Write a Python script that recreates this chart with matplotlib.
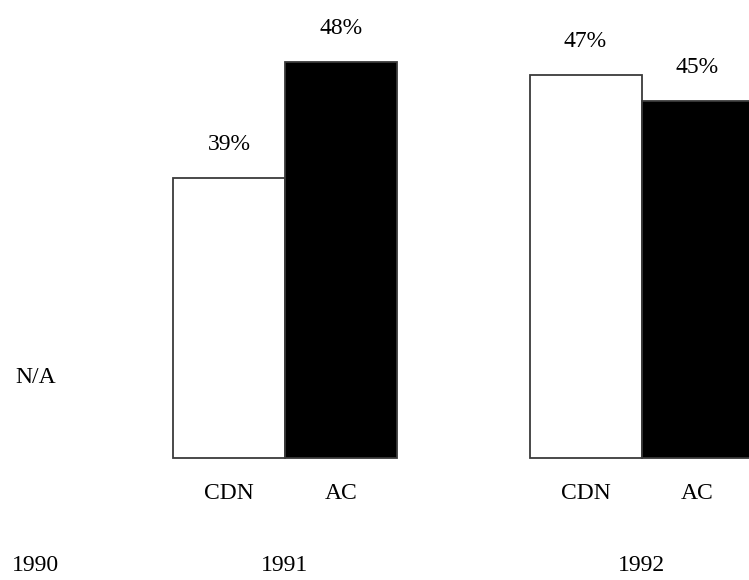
import matplotlib
matplotlib.use("Agg")
import matplotlib.pyplot as plt

# Data
years = ["1990", "1991", "1992"]
carriers = ["CDN", "AC"]
cdn_share = [None, 39, 47]   # 1990 not available
ac_share = [None, 48, 45]
missing_label = "N/A"

# Layout (x in bar-width units)
group_x = [0.32, 2.545, 5.728]
bar_w = 1.0
fill_colors = {"CDN": "white", "AC": "black"}

plt.rcParams["font.family"] = ["Liberation Serif", "DejaVu Serif"]
FS = 17

fig = plt.figure(figsize=(7.49, 5.80), dpi=100)
ax = fig.add_axes([0, 0.2095, 1, 0.7905])
ax.set_xlim(0, 749 / 112)
ax.set_ylim(17.1, 52.84)
ax.axis("off")

series = {"CDN": cdn_share, "AC": ac_share}
for gi, (yr, gx) in enumerate(zip(years, group_x)):
    # year label under each group
    ax.annotate(yr, xy=(gx, 0), xycoords=("data", "axes fraction"),
                xytext=(0, -113 * 0.72), textcoords="offset points",
                ha="center", va="baseline", fontsize=FS, annotation_clip=False)
    if cdn_share[gi] is None:
        ax.annotate(missing_label, xy=(gx, 0), xycoords=("data", "axes fraction"),
                    xytext=(0, (458.5 - 383) * 0.72), textcoords="offset points",
                    ha="center", va="baseline", fontsize=FS)
        continue
    for ci, name in enumerate(carriers):
        val = series[name][gi]
        cx = gx + (ci - 0.5) * bar_w
        ax.bar(cx, val - 17.1, bottom=17.1, width=bar_w,
               color=fill_colors[name], edgecolor="#3a3a3a", linewidth=1.3,
               clip_on=False)
        ax.annotate(f"{val}%", xy=(cx, val), xytext=(0, 28 * 0.72),
                    textcoords="offset points", ha="center", va="baseline",
                    fontsize=FS, annotation_clip=False)
        ax.annotate(name, xy=(cx, 0), xycoords=("data", "axes fraction"),
                    xytext=(0, -40.5 * 0.72), textcoords="offset points",
                    ha="center", va="baseline", fontsize=FS, annotation_clip=False)

fig.savefig("out.png", dpi=100, facecolor="white")
